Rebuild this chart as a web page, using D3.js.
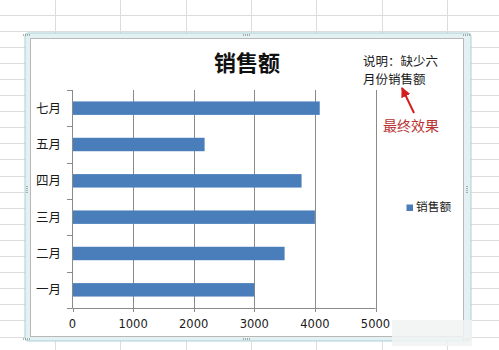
<!DOCTYPE html>
<html>
<head>
<meta charset="utf-8">
<script src="https://cdn.jsdelivr.net/npm/d3@7"></script>
<style>
  body { margin: 0; background: #fff; }
  svg { display: block; font-family: "Noto Sans CJK SC", "Noto Sans", sans-serif; }
</style>
</head>
<body>
<svg id="svg" width="499" height="350"></svg>
<script>
// categories top to bottom, as drawn
const months = ["七月", "五月", "四月", "三月", "二月", "一月"];
const sales = [4080, 2180, 3780, 4000, 3500, 3000];
const xTicks = [0, 1000, 2000, 3000, 4000, 5000];
const title = "销售额";
const noteLines = ["说明：缺少六", "月份销售额"];
const noteRed = "最终效果";

const svg = d3.select("#svg");

// spreadsheet grid behind the chart
const grid = svg.append("g").attr("stroke", "#dcdcdc").attr("stroke-width", 1);
d3.range(0, 8).forEach(i => {
    const x = Math.round(55 + i * 65.3) + 0.5;
    grid.append("line").attr("x1", x).attr("x2", x).attr("y1", 0).attr("y2", 350);
});
d3.range(0, 22).forEach(i => {
    const y = Math.round(14.5 + i * 16.1) + 0.5;
    grid.append("line").attr("x1", 0).attr("x2", 499).attr("y1", y).attr("y2", y);
});

// chart frame
svg.append("rect").attr("x", 25).attr("y", 33).attr("width", 446).attr("height", 308)
    .attr("rx", 3).attr("fill", "#e3f1f3").attr("stroke", "#a9cfd6");
svg.append("rect").attr("x", 30.5).attr("y", 38.5).attr("width", 433).attr("height", 298)
    .attr("fill", "#fff").attr("stroke", "#b8b8b8");

// frame handles
const handles = [[27, 35], [247, 35], [467, 35], [27, 190], [467, 190], [27, 339], [247, 339], [467, 339]];
handles.forEach(([hx, hy]) => {
    const horizontal = hy === 35 || hy === 339;
    d3.range(4).forEach(k => {
        svg.append("rect")
            .attr("x", horizontal ? hx - 4 + k * 2 : hx - 0.5)
            .attr("y", horizontal ? hy - 0.5 : hy - 4 + k * 2)
            .attr("width", 1).attr("height", 1).attr("fill", "#666");
    });
});

const x = d3.scaleLinear().domain([0, 5000]).range([72.5, 375.5]);
const y = d3.scaleBand().domain(months).range([90, 308]).padding(0);

// vertical gridlines
svg.append("g").selectAll("line").data(xTicks.slice(1)).join("line")
    .attr("x1", d => Math.round(x(d)) + 0.5).attr("x2", d => Math.round(x(d)) + 0.5)
    .attr("y1", 90).attr("y2", 308)
    .attr("stroke", "#8a8a8a");

// bars
const barH = y.bandwidth() * 0.37;
svg.append("g").selectAll("rect").data(months).join("rect")
    .attr("x", x(0))
    .attr("y", (d) => y(d) + y.bandwidth() / 2 - barH / 2)
    .attr("width", (d, i) => x(sales[i]) - x(0))
    .attr("height", barH)
    .attr("fill", "#4a7ebb");

// y axis: line with ticks on band edges
const yAxis = svg.append("g");
yAxis.append("line").attr("x1", 72.5).attr("x2", 72.5).attr("y1", 90).attr("y2", 308).attr("stroke", "#8a8a8a");
const edges = months.map(m => y(m)).concat([308]);
yAxis.selectAll(".tk").data(edges).join("line").attr("class", "tk")
    .attr("x1", 67).attr("x2", 72.5)
    .attr("y1", d => Math.round(d) + 0.5).attr("y2", d => Math.round(d) + 0.5)
    .attr("stroke", "#8a8a8a");
yAxis.selectAll("text").data(months).join("text")
    .attr("x", 61).attr("y", d => y(d) + y.bandwidth() / 2 + 4.5)
    .attr("text-anchor", "end").attr("font-size", 12.5).attr("fill", "#1a1a1a")
    .text(d => d);

// x axis
const xAxis = svg.append("g");
xAxis.append("line").attr("x1", 72.5).attr("x2", 375.5).attr("y1", 308.5).attr("y2", 308.5).attr("stroke", "#8a8a8a");
xAxis.selectAll(".tk").data(xTicks).join("line").attr("class", "tk")
    .attr("x1", d => Math.round(x(d)) + 0.5).attr("x2", d => Math.round(x(d)) + 0.5)
    .attr("y1", 308).attr("y2", 312)
    .attr("stroke", "#8a8a8a");
xAxis.selectAll("text").data(xTicks).join("text")
    .attr("x", d => x(d)).attr("y", 328)
    .attr("text-anchor", "middle").attr("font-size", 11.5).attr("fill", "#1a1a1a")
    .attr("font-family", "DejaVu Sans, sans-serif")
    .text(d => d);

// title
svg.append("text").attr("x", 247).attr("y", 71)
    .attr("text-anchor", "middle").attr("font-size", 22).attr("font-weight", "bold").attr("fill", "#111")
    .text(title);

// note
svg.append("g").selectAll("text").data(noteLines).join("text")
    .attr("x", 363).attr("y", (d, i) => 65.5 + i * 18)
    .attr("font-size", 12.5).attr("fill", "#1a1a1a")
    .text(d => d);

// red arrow
svg.append("defs").append("marker")
    .attr("id", "ah").attr("viewBox", "0 0 10 10").attr("refX", 9).attr("refY", 5)
    .attr("markerWidth", 5).attr("markerHeight", 5).attr("orient", "auto")
    .append("path").attr("d", "M0,0L10,5L0,10z").attr("fill", "#d21f1f");
svg.append("line").attr("x1", 414).attr("y1", 113).attr("x2", 402).attr("y2", 88)
    .attr("stroke", "#d21f1f").attr("stroke-width", 2).attr("marker-end", "url(#ah)");
svg.append("text").attr("x", 383).attr("y", 131)
    .attr("font-size", 14).attr("fill", "#b83232")
    .text(noteRed);

// legend
svg.append("rect").attr("x", 406.5).attr("y", 204.5).attr("width", 6.5).attr("height", 6.5).attr("fill", "#4a7ebb");
svg.append("text").attr("x", 416).attr("y", 211).attr("font-size", 11.7).attr("fill", "#1a1a1a").text(title);

// faint watermark patch at bottom right
svg.append("rect").attr("x", 392).attr("y", 320).attr("width", 80).attr("height", 26)
    .attr("fill", "#f1f3f3").attr("opacity", 0.85);
</script>
</body>
</html>
